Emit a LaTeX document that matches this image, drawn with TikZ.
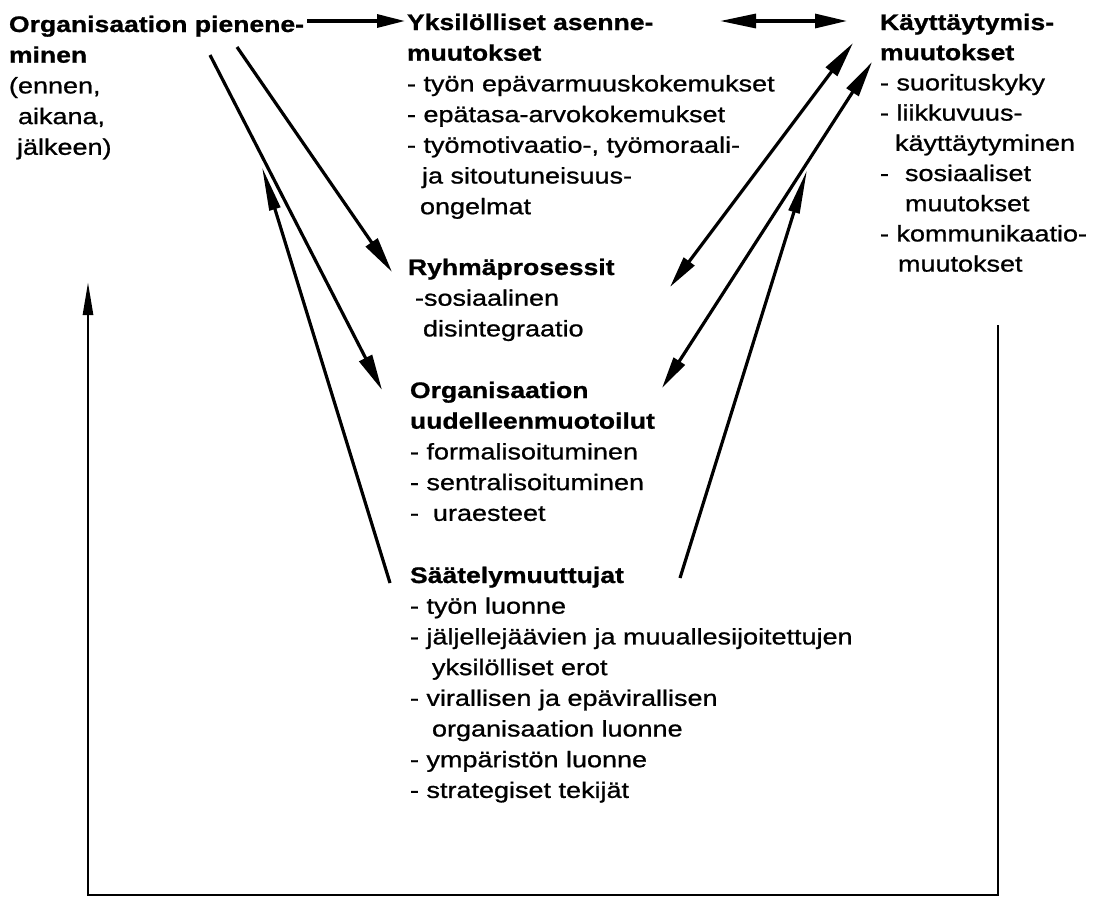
\documentclass[tikz,border=0pt]{standalone}
\usepackage{fontspec}
\setmainfont{Liberation Sans}[FakeStretch=1.2, FakeBold=0.9, BoldFeatures={FakeStretch=1.18, FakeBold=0.9}]
\usetikzlibrary{arrows.meta}
\tikzset{
  blk/.style={anchor=base west, inner sep=0pt, outer sep=0pt, font=\fontsize{22.5}{30.7}\selectfont},
  conn/.style={line width=3.2pt},
  headA/.style={-{Triangle[length=28pt,width=13pt]}},
  headB/.style={{Triangle[length=36pt,width=14pt]}-{Triangle[length=32pt,width=14pt]}},
  headC/.style={-{Triangle[length=36pt,width=14pt]}},
  headD/.style={-{Triangle[length=44pt,width=11pt]}},
  headE/.style={{Triangle[length=32pt,width=13pt]}-{Triangle[length=36pt,width=14pt]}},
  headF/.style={-{Triangle[length=33pt,width=10pt]}},
}
\newcommand{\blines}[1]{\begin{tabular}[t]{@{}l@{}}#1\end{tabular}}
\begin{document}
\begin{tikzpicture}[x=1pt,y=-1pt]
\useasboundingbox (0,0) rectangle (1099,898);

% text blocks
\node[blk] (org) at (9,32) {\blines{\textbf{Organisaation pienene-}\\ \textbf{minen}\\ (ennen,\\ \hspace*{9pt}aikana,\\ \hspace*{8pt}jälkeen)}};
\node[blk] (yks) at (407,30) {\blines{\textbf{Yksilölliset asenne-}\\ \textbf{muutokset}\\ - työn epävarmuuskokemukset\\ - epätasa-arvokokemukset\\ - työmotivaatio-, työmoraali-\\ \hspace*{15pt}ja sitoutuneisuus-\\ \hspace*{13pt}ongelmat}};
\node[blk, font=\fontsize{22.5}{30.2}\selectfont] (kay) at (880,30) {\blines{\textbf{Käyttäytymis-}\\ \textbf{muutokset}\\ - suorituskyky\\ - liikkuvuus-\\ \hspace*{15pt}käyttäytyminen\\ -\hspace*{16pt}sosiaaliset\\ \hspace*{25pt}muutokset\\ - kommunikaatio-\\ \hspace*{18pt}muutokset}};
\node[blk] (ryh) at (408,275) {\blines{\textbf{Ryhmäprosessit}\\ \hspace*{7pt}-sosiaalinen\\ \hspace*{15pt}disintegraatio}};
\node[blk] (uud) at (410,398) {\blines{\textbf{Organisaation}\\ \textbf{uudelleenmuotoilut}\\ - formalisoituminen\\ - sentralisoituminen\\ -\hspace*{14pt}uraesteet}};
\node[blk] (saa) at (410,583) {\blines{\textbf{Säätelymuuttujat}\\ - työn luonne\\ - jäljellejäävien ja muuallesijoitettujen\\ \hspace*{22pt}yksilölliset erot\\ - virallisen ja epävirallisen\\ \hspace*{22pt}organisaation luonne\\ - ympäristön luonne\\ - strategiset tekijät}};

% connector end points
\coordinate (orgR) at (307,21);
\coordinate (yksL) at (405,21);
\coordinate (yksR) at (720,21);
\coordinate (kayL) at (847,21);
\coordinate (orgA) at (237,47);
\coordinate (ryhL) at (392,272);
\coordinate (orgB) at (210,55);
\coordinate (uudL) at (382,390);
\coordinate (saaL) at (390,583);
\coordinate (orgC) at (262,167);
\coordinate (kayA) at (853,43);
\coordinate (ryhR) at (670,287);
\coordinate (kayB) at (872,62);
\coordinate (uudR) at (662,388);
\coordinate (saaR) at (680,578);
\coordinate (kayC) at (807,170);
\coordinate (loopR) at (998,325);
\coordinate (loopBR) at (998,895);
\coordinate (loopBL) at (88,895);
\coordinate (loopL) at (88,282);

% connectors
\draw[conn, headA] (orgR) -- (yksL);
\draw[conn, headB] (yksR) -- (kayL);
\draw[conn, headC] (orgA) -- (ryhL);
\draw[conn, headC] (orgB) -- (uudL);
\draw[conn, headD] (saaL) -- (orgC);
\draw[conn, headE] (ryhR) -- (kayA);
\draw[conn, headE] (uudR) -- (kayB);
\draw[conn, headD] (saaR) -- (kayC);
\draw[conn, line width=2.6pt, headF] (loopR) -- (loopBR) -- (loopBL) -- (loopL);
\end{tikzpicture}
\end{document}
